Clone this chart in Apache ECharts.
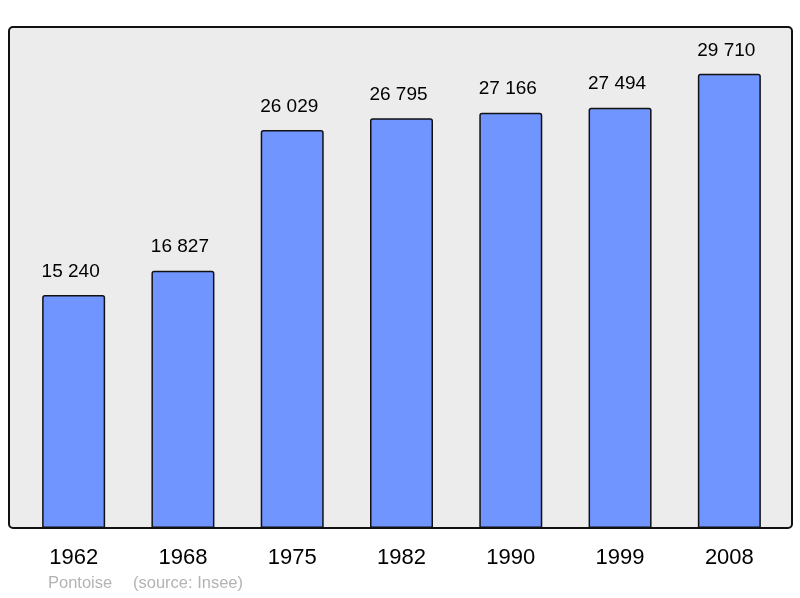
<!DOCTYPE html>
<html lang="fr">
<head>
    <meta charset="UTF-8">
    <title>Pontoise - population</title>
    <script src="https://cdn.jsdelivr.net/npm/echarts@6/dist/echarts.min.js"></script>
    <style>
        html, body { margin: 0; padding: 0; background: #fff; }
        #chart { width: 800px; height: 598px; }
    </style>
</head>
<body>
<div id="chart"></div>
<script>
    // recensements
    var years = ['1962', '1968', '1975', '1982', '1990', '1999', '2008'];
    var population = [15240, 16827, 26029, 26795, 27166, 27494, 29710];
    var commune = 'Pontoise';
    var source = '(source: Insee)';

    function fmt(v) {
        return String(v).replace(/\B(?=(\d{3})+(?!\d))/g, ' ');
    }

    var chart = echarts.init(document.getElementById('chart'));
    chart.setOption({
        animation: false,
        backgroundColor: '#ffffff',
        grid: { left: 19, right: 16, top: 27, bottom: 70 },
        xAxis: {
            type: 'category',
            data: years,
            axisLine: { show: false },
            axisTick: { show: false },
            axisLabel: {
                color: '#000',
                fontSize: 22,
                fontFamily: 'Liberation Sans, Arial, sans-serif',
                margin: 19
            }
        },
        yAxis: {
            type: 'value',
            min: 0,
            max: 32770,
            show: false
        },
        graphic: [
            {
                type: 'rect',
                z: -10,
                shape: { x: 9, y: 27, width: 783, height: 501, r: 4 },
                style: { fill: '#ececec', stroke: '#111', lineWidth: 2 }
            },
            {
                type: 'text',
                left: 48,
                top: 575,
                style: {
                    text: commune,
                    fill: '#b3b3b3',
                    font: '16.5px "Liberation Sans", Arial, sans-serif'
                }
            },
            {
                type: 'text',
                left: 133,
                top: 575,
                style: {
                    text: source,
                    fill: '#b3b3b3',
                    font: '16.5px "Liberation Sans", Arial, sans-serif'
                }
            }
        ],
        series: [{
            type: 'bar',
            data: population,
            barWidth: 63,
            z: 5,
            itemStyle: {
                color: '#7095ff',
                borderColor: '#111',
                borderWidth: 1.5,
                borderRadius: [2, 2, 0, 0]
            },
            label: {
                show: true,
                position: 'top',
                distance: 14,
                offset: [-3, 0],
                color: '#000',
                fontSize: 19,
                fontFamily: 'Liberation Sans, Arial, sans-serif',
                formatter: function (p) { return fmt(p.value); }
            }
        }]
    });
</script>
</body>
</html>
